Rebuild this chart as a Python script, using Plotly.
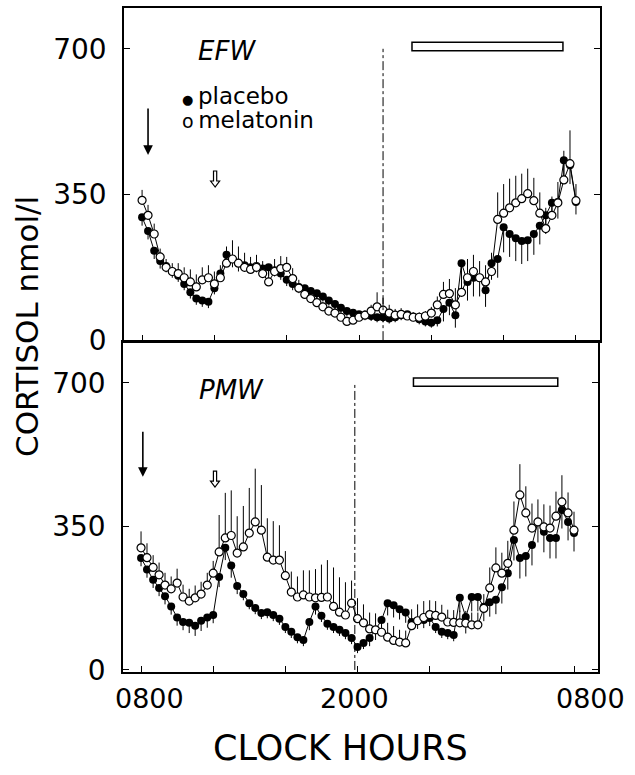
import plotly.graph_objects as go

# sampling times, hours after 08:00 (20-min samples)
hours = [0, 0.33, 0.67, 1, 1.33, 1.67, 2, 2.33, 2.67, 3, 3.33, 3.67, 4, 4.33, 4.67, 5, 5.33, 5.67,
         6, 6.33, 6.67, 7, 7.33, 7.67, 8, 8.33, 8.67, 9, 9.33, 9.67, 10, 10.33, 10.67, 11, 11.33, 11.67,
         12, 12.33, 12.67, 13, 13.33, 13.67, 14, 14.33, 14.67, 15, 15.33, 15.67, 16, 16.33, 16.67, 17,
         17.33, 17.67, 18, 18.33, 18.67, 19, 19.33, 19.67, 20, 20.33, 20.67, 21, 21.33, 21.67, 22,
         22.33, 22.67, 23, 23.33, 23.67, 24]

# EFW panel (nmol/l)
efw_placebo = [295, 262, 215, 190, 178, 165, 155, 135, 115, 100,
               95, 92, 125, 160, 205, 195, 185, 180, 175, 178,
               172, 175, 168, 160, 145, 135, 128, 125, 118, 113,
               105, 95, 87, 78, 70, 66, 62, 60, 58, 55,
               55, 52, 55, 60, 62, 57, 50, 45, 42, 48,
               75, 90, 60, 185, 140, 150, 150, 120, 185, 195,
               271, 255, 245, 238, 240, 255, 275, 300, 330, 332,
               432, 420, 332]
efw_placebo_sem = [20, 20, 20, 18, 15, 15, 15, 15, 15, 15,
                   15, 15, 15, 20, 25, 20, 20, 15, 15, 15,
                   15, 20, 15, 15, 15, 15, 15, 15, 12, 12,
                   12, 12, 12, 12, 12, 12, 12, 12, 12, 12,
                   12, 12, 12, 12, 12, 12, 12, 12, 12, 15,
                   30, 30, 30, 40, 45, 45, 45, 40, 40, 45,
                   60, 55, 55, 55, 50, 50, 45, 45, 40, 40,
                   45, 45, 30]
efw_melatonin = [336, 300, 255, 200, 175, 165, 160, 150, 140, 128,
                 145, 150, 135, 150, 185, 195, 185, 175, 170, 175,
                 160, 140, 165, 172, 175, 148, 125, 110, 100, 90,
                 80, 70, 65, 55, 45, 48, 55, 60, 70, 80,
                 72, 65, 60, 62, 58, 55, 55, 58, 65, 85,
                 110, 112, 85, 115, 150, 165, 150, 140, 165, 290,
                 305, 318, 330, 340, 352, 335, 305, 268, 300, 330,
                 385, 424, 335]
efw_melatonin_sem = [25, 25, 25, 20, 20, 20, 25, 25, 30, 30,
                     30, 30, 30, 30, 40, 45, 40, 35, 30, 30,
                     30, 30, 30, 30, 25, 25, 20, 20, 15, 15,
                     12, 12, 12, 12, 12, 12, 12, 12, 15, 35,
                     30, 20, 15, 15, 12, 12, 12, 12, 15, 20,
                     30, 35, 40, 40, 45, 40, 40, 40, 45, 65,
                     70, 70, 65, 60, 60, 55, 50, 50, 45, 50,
                     70, 80, 40]

# PMW panel (nmol/l)
pmw_placebo = [273, 245, 220, 200, 180, 155, 128, 117, 115, 108,
               120, 128, 134, 227, 298, 255, 205, 185, 163, 151,
               139, 141, 134, 125, 105, 93, 80, 73, 117, 155,
               132, 113, 105, 98, 90, 78, 56, 66, 78, 98,
               122, 163, 158, 148, 140, 117, 120, 122, 127, 105,
               93, 90, 85, 176, 129, 178, 178, 154, 165, 171,
               202, 236, 317, 273, 278, 305, 361, 337, 322, 322,
               390, 361, 334]
pmw_placebo_sem = [20, 20, 20, 20, 20, 20, 20, 20, 25, 25,
                   25, 25, 20, 25, 30, 30, 20, 15, 15, 15,
                   15, 15, 15, 15, 15, 15, 15, 15, 20, 20,
                   15, 15, 15, 15, 15, 15, 15, 15, 20, 25,
                   25, 30, 30, 25, 25, 20, 20, 20, 20, 15,
                   15, 15, 15, 35, 40, 35, 35, 35, 35, 35,
                   40, 40, 50, 50, 50, 50, 50, 50, 50, 50,
                   45, 45, 45]
pmw_melatonin = [298, 274, 250, 232, 207, 198, 212, 178, 168, 176,
                 185, 207, 236, 288, 322, 328, 285, 300, 334, 361,
                 341, 275, 268, 268, 230, 190, 178, 183, 178, 176,
                 177, 178, 155, 141, 134, 163, 125, 115, 100, 98,
                 92, 80, 72, 68, 66, 108, 120, 128, 135, 133,
                 129, 117, 116, 115, 114, 110, 110, 150, 200, 249,
                 236, 260, 341, 427, 383, 346, 361, 349, 346, 375,
                 410, 383, 341]
pmw_melatonin_sem = [40, 35, 30, 30, 30, 30, 35, 30, 30, 30,
                     30, 30, 30, 90, 110, 110, 90, 100, 110, 130,
                     110, 95, 95, 85, 60, 50, 50, 60, 65, 70,
                     80, 90, 95, 85, 80, 55, 50, 45, 40, 40,
                     40, 35, 35, 30, 30, 40, 40, 40, 35, 35,
                     30, 30, 30, 30, 30, 30, 30, 35, 50, 50,
                     50, 55, 70, 75, 65, 60, 55, 55, 55, 60,
                     65, 50, 45]

x_tickvals = [0, 4, 8, 12, 16, 20, 24]
x_label_text = ["0800", "2000", "0800"]
x_label_px = [149, 354, 590]   # label centres as typeset in the original
y_tickvals = [0, 350, 700]
y_ticktext = ["0", "350", "700"]

# event markers (hours after 08:00)
efw_lights_off = 13.33
pmw_lights_off = 11.85
efw_sleep_bar = (14.93, 23.28)
pmw_sleep_bar = (15.1, 23.1)

W, H = 635, 775
FONT = "DejaVu Sans"

fig = go.Figure()


def add_pair(placebo, placebo_sem, melatonin, melatonin_sem, xa, ya):
    zeros = [0 for _ in placebo]
    fig.add_trace(go.Scatter(
        x=hours, y=placebo, xaxis=xa, yaxis=ya, mode="lines+markers",
        line=dict(color="black", width=1),
        marker=dict(symbol="circle", size=8, color="black"),
        error_y=dict(type="data", symmetric=False, array=zeros, arrayminus=placebo_sem,
                     color="black", thickness=1, width=0),
        showlegend=False, name="placebo", hoverinfo="skip"))
    fig.add_trace(go.Scatter(
        x=hours, y=melatonin, xaxis=xa, yaxis=ya, mode="lines+markers",
        line=dict(color="black", width=1),
        marker=dict(symbol="circle", size=8, color="white", line=dict(color="black", width=1.2)),
        error_y=dict(type="data", symmetric=False, array=melatonin_sem, arrayminus=zeros,
                     color="black", thickness=1, width=0),
        showlegend=False, name="melatonin", hoverinfo="skip"))


add_pair(efw_placebo, efw_placebo_sem, efw_melatonin, efw_melatonin_sem, "x", "y")
add_pair(pmw_placebo, pmw_placebo_sem, pmw_melatonin, pmw_melatonin_sem, "x2", "y2")

xr = [-1.0, 25.33]
axis_common = dict(showline=True, linecolor="black", linewidth=1.5, showgrid=False,
                   zeroline=False, ticks="inside", ticklen=6, tickcolor="black", tickwidth=1.2,
                   automargin=False)

fig.update_layout(
    width=W, height=H, margin=dict(l=0, r=0, t=0, b=0, autoexpand=False),
    paper_bgcolor="white", plot_bgcolor="white",
    font=dict(family=FONT, color="black"),
    xaxis=dict(domain=[124 / W, 600 / W], range=xr, anchor="y", mirror=True,
               tickvals=x_tickvals, showticklabels=False, **axis_common),
    yaxis=dict(domain=[1 - 341 / H, 1 - 8 / H], range=[-2, 798], anchor="x", mirror="ticks",
               tickvals=y_tickvals, ticktext=y_ticktext, ticklabelstandoff=10,
               tickfont=dict(family=FONT, size=28, color="black"), **axis_common),
    xaxis2=dict(domain=[123 / W, 598 / W], range=xr, anchor="y2", mirror=True,
                tickvals=x_tickvals, showticklabels=False, **axis_common),
    yaxis2=dict(domain=[1 - 672 / H, 1 - 342 / H], range=[-5, 800], anchor="x2", mirror="ticks",
                tickvals=y_tickvals, ticktext=y_ticktext, ticklabelstandoff=10,
                tickfont=dict(family=FONT, size=28, color="black"), **axis_common),
)

open_arrow = "M 0,0 L -4.5,6 L -1.6,6 L -1.6,16 L 1.6,16 L 1.6,6 L 4.5,6 Z"

shapes = []
# lights-off dash-dot lines
shapes.append(dict(type="line", xref="x", yref="y", x0=efw_lights_off, x1=efw_lights_off,
                   y0=0, y1=700, line=dict(color="black", width=1, dash="dashdot")))
shapes.append(dict(type="line", xref="x2", yref="y2", x0=pmw_lights_off, x1=pmw_lights_off,
                   y0=0, y1=700, line=dict(color="black", width=1, dash="dashdot")))
# sleep bars
shapes.append(dict(type="rect", xref="x", yref="y", x0=efw_sleep_bar[0], x1=efw_sleep_bar[1],
                   y0=695, y1=716, line=dict(color="black", width=1.5), fillcolor="white"))
shapes.append(dict(type="rect", xref="x2", yref="y2", x0=pmw_sleep_bar[0], x1=pmw_sleep_bar[1],
                   y0=692, y1=712, line=dict(color="black", width=1.5), fillcolor="white"))
# open arrows (12:00)
shapes.append(dict(type="path", xref="x", yref="y", xsizemode="pixel", ysizemode="pixel",
                   xanchor=4.04, yanchor=368, path=open_arrow,
                   line=dict(color="black", width=1.2), fillcolor="white"))
shapes.append(dict(type="path", xref="x2", yref="y2", xsizemode="pixel", ysizemode="pixel",
                   xanchor=4.1, yanchor=446, path=open_arrow,
                   line=dict(color="black", width=1.2), fillcolor="white"))
fig.update_layout(shapes=shapes)


def label(x, y, text, size, **kw):
    d = dict(xref="paper", yref="paper", x=x / W, y=1 - y / H, text=text, showarrow=False,
             xanchor="center", yanchor="middle", font=dict(family=FONT, size=size, color="black"))
    d.update(kw)
    return d


ann = []
# solid arrows (08:00)
ann.append(dict(xref="x", yref="y", axref="x", ayref="y", x=0.33, y=445, ax=0.33, ay=560,
                showarrow=True, arrowhead=2, arrowsize=1.2, arrowwidth=1.6, arrowcolor="black", text=""))
ann.append(dict(xref="x2", yref="y2", axref="x2", ayref="y2", x=0.1, y=471, ax=0.1, ay=585,
                showarrow=True, arrowhead=2, arrowsize=1.2, arrowwidth=1.6, arrowcolor="black", text=""))
# panel labels
ann.append(label(227, 51, "<i>EFW</i>", 26))
ann.append(label(231, 390, "<i>PMW</i>", 26))
# legend
ann.append(label(180, 96, "<span style='font-size:13px'>●</span>\u2009placebo", 23, xanchor="left"))
ann.append(label(180, 120, "<span style='font-size:19px'>o</span>\u2009melatonin", 23, xanchor="left"))
# x tick labels
for t, px in zip(x_label_text, x_label_px):
    ann.append(label(px, 698, t, 27))
# axis titles
ann.append(label(27, 327, "CORTISOL nmol/l", 31, textangle=-90))
ann.append(label(340, 748, "CLOCK HOURS", 35))
fig.update_layout(annotations=ann)

fig.write_html("out.html", config={"displayModeBar": False},
               post_script="document.body.style.margin='0px';")
